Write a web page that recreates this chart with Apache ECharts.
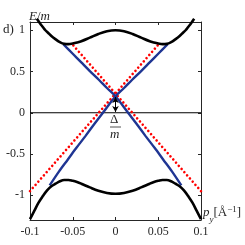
<!DOCTYPE html>
<html><head><meta charset="utf-8">
<script src="https://cdn.jsdelivr.net/npm/echarts@6/dist/echarts.min.js"></script>
<style>html,body{margin:0;padding:0;background:#fff}#c{width:245px;height:245px}</style>
</head><body><div id="c"></div>
<script>
// data
var xTicks = [-0.1, -0.05, 0, 0.05, 0.1];
var yTicks = [-1, -0.5, 0, 0.5, 1];
var upperBandX = [-0.092,-0.088,-0.085,-0.082,-0.079,-0.075,-0.07,-0.065,-0.06,-0.055,-0.05,-0.045,-0.04,-0.03,-0.02,-0.01,0,0.01,0.02,0.03,0.04,0.045,0.05,0.055,0.06,0.065,0.07,0.075,0.079,0.082,0.085,0.088,0.092];
var upperBandY = [1.14,1.08,1.04,1.00,0.97,0.93,0.89,0.855,0.835,0.832,0.84,0.852,0.867,0.91,0.955,0.988,1.0,0.988,0.955,0.91,0.867,0.852,0.84,0.832,0.835,0.855,0.89,0.93,0.97,1.00,1.04,1.08,1.14];
var lowerBandX = [-0.1,-0.095,-0.09,-0.085,-0.08,-0.075,-0.07,-0.065,-0.06,-0.055,-0.05,-0.045,-0.04,-0.03,-0.02,-0.01,0,0.01,0.02,0.03,0.04,0.045,0.05,0.055,0.06,0.065,0.07,0.075,0.08,0.085,0.09,0.095,0.1];
var lowerBandY = [-1.29,-1.19,-1.09,-1.01,-0.94,-0.89,-0.86,-0.83,-0.815,-0.815,-0.825,-0.84,-0.86,-0.905,-0.945,-0.972,-0.982,-0.972,-0.945,-0.905,-0.86,-0.84,-0.825,-0.815,-0.815,-0.83,-0.86,-0.89,-0.94,-1.01,-1.09,-1.19,-1.29];
var blueX = [-0.061,-0.05,-0.04,-0.03,-0.0195,-0.01,0,0.0147,0.025,0.035,0.0457,0.0557,0.066,0.077];
var blueY = [0.83,0.715,0.61,0.505,0.40,0.30,0.2,0,-0.14,-0.28,-0.425,-0.566,-0.71,-0.88];
var redX = [-0.1, 0.0505];
var redY = [-0.95, 0.83];
var gapArrowY = [0.19, 0.01];

function pairs(xs, ys, sign){ return xs.map(function(x,i){ return [sign*x, ys[i]]; }); }

var axisColor = '#262626';
var font = 'Liberation Serif, DejaVu Serif, serif';
var chart = echarts.init(document.getElementById('c'), null, {renderer:'canvas'});
var common = {
  min: null, max: null
};
chart.setOption({
  animation: false,
  backgroundColor: '#fff',
  grid: {left: 30, right: 44, top: 22, bottom: 25},
  xAxis: [{
    type: 'value', min: -0.1, max: 0.1, interval: 0.05, position: 'bottom',
    axisLine: {show: true, onZero: false, lineStyle: {color: axisColor, width: 1}},
    axisTick: {show: true, inside: true, length: 3, lineStyle: {color: axisColor}},
    axisLabel: {show: true, color: axisColor, fontFamily: font, fontSize: 12, margin: 6,
      customValues: xTicks, formatter: function(v){ return String(+v.toFixed(2)); }},
    splitLine: {show: false},
    name: '{p|p}{s|y}{b|[Å}{sup|−1}{b|]}', nameLocation: 'end', nameGap: 2,
    nameTextStyle: {verticalAlign: 'bottom', align: 'left', padding: [0,0,0,0],
      rich: {
        p: {fontFamily: font, fontStyle: 'italic', fontSize: 13, color: axisColor},
        s: {fontFamily: font, fontStyle: 'italic', fontSize: 9, color: axisColor, verticalAlign: 'bottom', padding: [0,0,-4,0]},
        b: {fontFamily: font, fontSize: 13, color: axisColor},
        sup: {fontFamily: font, fontSize: 9, color: axisColor, verticalAlign: 'top', padding: [0,0,6,0]}
      }}
  }, {
    type: 'value', min: -0.1, max: 0.1, interval: 0.05, position: 'top',
    axisLine: {show: true, onZero: false, lineStyle: {color: axisColor, width: 1}},
    axisTick: {show: true, inside: true, length: 3, lineStyle: {color: axisColor}},
    axisLabel: {show: false}, splitLine: {show: false}
  }],
  yAxis: [{
    type: 'value', min: -1.3, max: 1.1, position: 'left',
    axisLine: {show: true, onZero: false, lineStyle: {color: axisColor, width: 1}},
    axisTick: {show: true, inside: true, length: 3, customValues: yTicks, lineStyle: {color: axisColor}},
    axisLabel: {show: true, color: axisColor, fontFamily: font, fontSize: 12, margin: 5,
      customValues: yTicks, formatter: function(v){ return String(+v.toFixed(2)); }},
    splitLine: {show: false},
    name: '{e|E}{n|/}{e|m}', nameLocation: 'end', nameGap: 2,
    nameTextStyle: {align: 'left', verticalAlign: 'bottom', padding: [0,0,-3,-1],
      rich: {
        e: {fontFamily: font, fontStyle: 'italic', fontSize: 13, color: axisColor},
        n: {fontFamily: font, fontSize: 13, color: axisColor}
      }}
  }, {
    type: 'value', min: -1.3, max: 1.1, position: 'right',
    axisLine: {show: true, onZero: false, lineStyle: {color: axisColor, width: 1}},
    axisTick: {show: true, inside: true, length: 3, customValues: yTicks, lineStyle: {color: axisColor}},
    axisLabel: {show: false}, splitLine: {show: false}
  }],
  graphic: [
    {type: 'text', left: 3, top: 23, style: {text: 'd)', font: '13px ' + font, fill: axisColor}},
    {type: 'text', left: 110, top: 113, style: {text: 'Δ', font: '13px ' + font, fill: axisColor}},
    {type: 'line', shape: {x1: 110, y1: 127, x2: 121, y2: 127}, style: {stroke: axisColor, lineWidth: 0.8}},
    {type: 'text', left: 110, top: 128, style: {text: 'm', font: 'italic 13px ' + font, fill: axisColor}}
  ],
  series: [
    {type: 'line', data: [[-0.1,0],[0.1,0]], symbol: 'none', lineStyle: {color: '#000', width: 1}, z: 1,
      markLine: {silent: true, symbol: ['arrow','arrow'], symbolSize: [5,6], label: {show: false},
        lineStyle: {color: '#000', width: 1, type: 'solid'},
        data: [[{coord: [0, gapArrowY[0]]}, {coord: [0, gapArrowY[1]]}]]}},
    {type: 'line', data: pairs(redX, redY, 1), symbol: 'none', z: 2,
      lineStyle: {color: '#ff0000', width: 2.6, type: [0.01, 4.2], cap: 'round'}},
    {type: 'line', data: pairs(redX, redY, -1), symbol: 'none', z: 2,
      lineStyle: {color: '#ff0000', width: 2.6, type: [0.01, 4.2], cap: 'round'}},
    {type: 'line', data: pairs(blueX, blueY, 1), symbol: 'none', smooth: 0.3, z: 3,
      lineStyle: {color: '#1f3593', width: 2.4}},
    {type: 'line', data: pairs(blueX, blueY, -1), symbol: 'none', smooth: 0.3, z: 3,
      lineStyle: {color: '#1f3593', width: 2.4}},
    {type: 'line', data: pairs(upperBandX, upperBandY, 1), symbol: 'none', smooth: 0.4, clip: false, z: 4,
      lineStyle: {color: '#000', width: 2.6}},
    {type: 'line', data: pairs(lowerBandX, lowerBandY, 1), symbol: 'none', smooth: 0.4, clip: false, z: 4,
      lineStyle: {color: '#000', width: 2.6}}
  ]
});
</script></body></html>
